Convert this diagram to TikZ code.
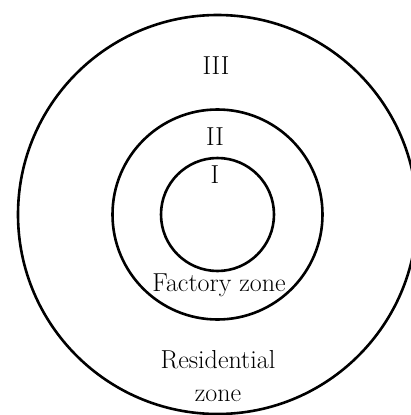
\documentclass[tikz,border=0pt]{standalone}
\usepackage{tikz}
\usetikzlibrary{positioning}

\begin{document}
\begin{tikzpicture}[
        x=1pt, y=-1pt,
        ring/.style={circle, draw, line width=2.6pt, inner sep=0pt, outer sep=0pt},
        zonelabel/.style={anchor=base, align=center, inner sep=0pt, font=\fontsize{26}{33.7}\selectfont}
    ]
        \useasboundingbox (0,0) rectangle (411,415);
        \coordinate (c) at (217.5,214.5);

        \node[ring, minimum size=399pt] (outer) at (c) {};
        \node[ring, minimum size=210pt] (middle) at (c) {};
        \node[ring, minimum size=113pt] (inner) at (c) {};

        \node[zonelabel] (three) at (216,74) {III};
        \node[zonelabel] (two) at (215,145) {II};
        \node[zonelabel] (one) at (215,183) {I};
        \node[zonelabel] (factory) at (219,291) {Factory zone};
        \node[zonelabel] (resid) at (218,401.7) {Residential\\zone};
    \end{tikzpicture}
\end{document}
